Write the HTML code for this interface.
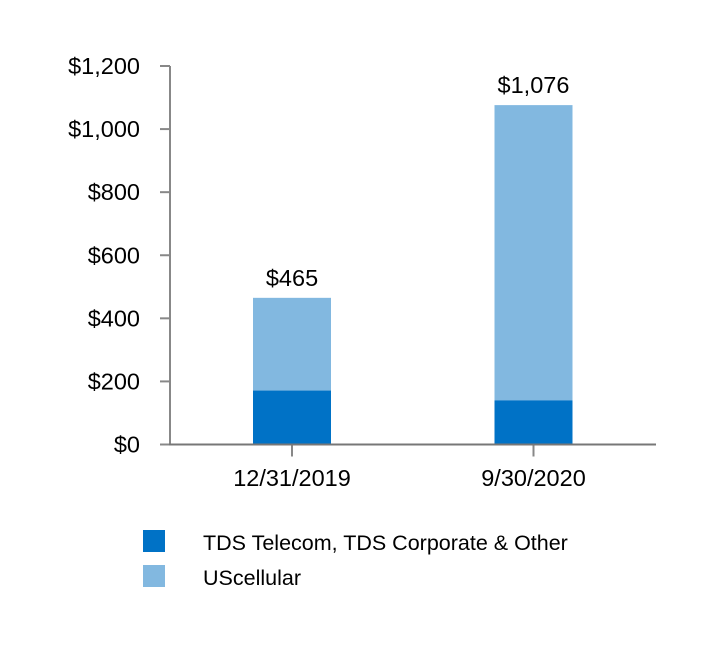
<!DOCTYPE html>
<html><head><meta charset="utf-8"><style>
body{margin:0;background:#fff;}
svg text{font-family:"Liberation Sans",Arial,sans-serif;fill:#000;}
</style></head><body>
<svg width="720" height="666">
<g id="plot"></g>
</svg>
<script>
const categories=["12/31/2019","9/30/2020"];
const tdsValues=[171,140];
const usccValues=[294,936];
const totalLabels=["$465","$1,076"];
const yTicks=[0,200,400,600,800,1000,1200];
const yTickLabels=["$0","$200","$400","$600","$800","$1,000","$1,200"];
const ns="http://www.w3.org/2000/svg";
const g=document.getElementById('plot');
const y0=444.5,yTop=66,x0=170,xEnd=656;
const y=v=>y0-(v/1200)*(y0-yTop);
const cx=i=>292+i*241.5;
const bw=78;
function el(t,a){const e=document.createElementNS(ns,t);for(const k in a)e.setAttribute(k,a[k]);g.appendChild(e);return e;}
let e=el('line',{x1:x0,y1:yTop,x2:x0,y2:y0,stroke:'#888','stroke-width':2});


yTicks.forEach((v,i)=>{
 let t=el('line',{x1:x0-10,y1:y(v),x2:x0,y2:y(v),stroke:'#888','stroke-width':2});
 
 
 let l=el('text',{x:x0-30,y:y(v)+8,'text-anchor':'end','font-size':23.5});
 l.textContent=yTickLabels[i];
 
 
});
categories.forEach((c,i)=>{
 let r1=el('rect',{x:cx(i)-bw/2,y:y(tdsValues[i]+usccValues[i]),width:bw,height:y(tdsValues[i])-y(tdsValues[i]+usccValues[i]),fill:'#82b8e0'});
 
 
 let r2=el('rect',{x:cx(i)-bw/2,y:y(tdsValues[i]),width:bw,height:y0-y(tdsValues[i]),fill:'#0072c6'});
 
 
 let tl=el('text',{x:cx(i),y:y(tdsValues[i]+usccValues[i])-12,'text-anchor':'middle','font-size':23.5});
 tl.textContent=totalLabels[i];
 
 
 let tk=el('line',{x1:cx(i),y1:y0,x2:cx(i),y2:y0+12,stroke:'#888','stroke-width':2});
 
 
 let cl=el('text',{x:cx(i),y:486,'text-anchor':'middle','font-size':23.5});
 cl.textContent=c;
 
 
});
e=el('line',{x1:x0-1,y1:y0,x2:xEnd,y2:y0,stroke:'#777','stroke-width':2});


</script>
<svg style="position:absolute;left:0;top:0" width="720" height="666">
<rect x="143" y="530" width="22" height="22" fill="#0072c6"/>
<text x="203" y="550" font-size="21.5">TDS Telecom, TDS Corporate &amp; Other</text>
<rect x="143" y="565" width="22" height="22" fill="#82b8e0"/>
<text x="203" y="585" font-size="21.5">UScellular</text>
</svg>
</body></html>
